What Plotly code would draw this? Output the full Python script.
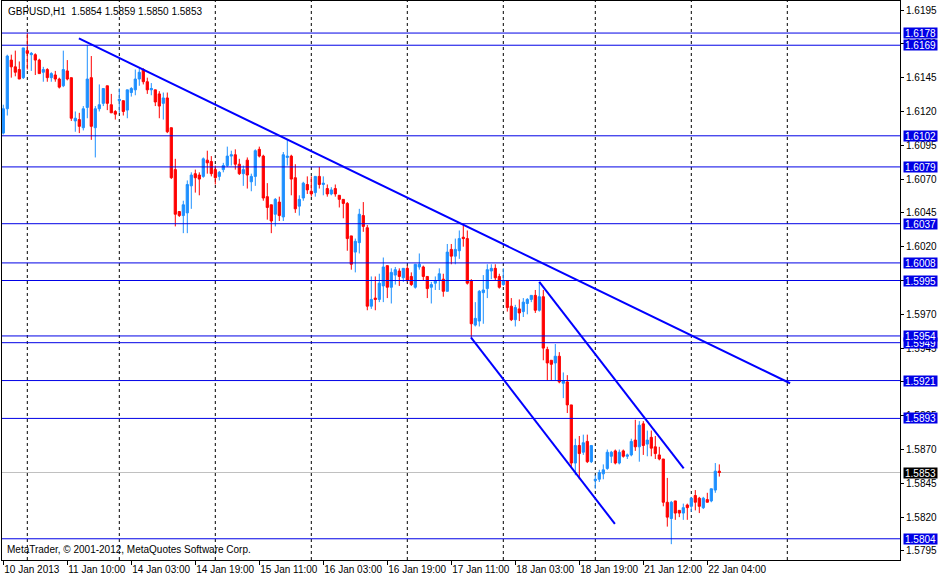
import plotly.graph_objects as go

# GBPUSD H1 bars, one per hour, first bar 10 Jan 2013 18:00
OPEN = [
    1.6104, 1.6122, 1.6158, 1.6153, 1.6151, 1.6145, 1.6165, 1.6162, 1.6162, 1.6158,
    1.6149, 1.6151, 1.6145, 1.6147, 1.6144, 1.6139, 1.6150, 1.6145, 1.6113, 1.6114,
    1.6108, 1.6123, 1.6145, 1.6108, 1.6122, 1.6126, 1.6139, 1.6125, 1.6120, 1.6128,
    1.6128, 1.6121, 1.6134, 1.6136, 1.6144, 1.6151, 1.6142, 1.6136, 1.6136, 1.6133,
    1.6126, 1.6130, 1.6108, 1.6077, 1.6046, 1.6043, 1.6045, 1.6065, 1.6074, 1.6073,
    1.6072, 1.6084, 1.6083, 1.6077, 1.6072, 1.6077, 1.6080, 1.6087, 1.6088, 1.6081,
    1.6074, 1.6084, 1.6068, 1.6072, 1.6092, 1.6087, 1.6057, 1.6051, 1.6044, 1.6053,
    1.6042, 1.6086, 1.6087, 1.6071, 1.6050, 1.6056, 1.6066, 1.6061, 1.6060, 1.6072,
    1.6066, 1.6063, 1.6059, 1.6063, 1.6058, 1.6055, 1.6052, 1.6028, 1.6016, 1.6023,
    1.6043, 1.6034, 1.5976, 1.5982, 1.5981, 1.5991, 1.6006, 1.5990, 1.5999, 1.6002,
    1.5997, 1.6004, 1.5998, 1.5990, 1.6005, 1.6005, 1.5998, 1.5990, 1.5993, 1.5995,
    1.5996, 1.5987, 1.6018, 1.6013, 1.6017, 1.6027, 1.6026, 1.5995, 1.5962, 1.5965,
    1.5986, 1.5989, 1.6002, 1.6004, 1.5998, 1.5992, 1.5995, 1.5976, 1.5966, 1.5974,
    1.5972, 1.5978, 1.5981, 1.5984, 1.5973, 1.5983, 1.5944, 1.5936, 1.5934, 1.5939,
    1.5919, 1.5920, 1.5903, 1.5860, 1.5873, 1.5868, 1.5876, 1.5861, 1.5847, 1.5848,
    1.5852, 1.5856, 1.5865, 1.5869, 1.5860, 1.5869, 1.5865, 1.5866, 1.5877, 1.5872,
    1.5889, 1.5874, 1.5879, 1.5872, 1.5866, 1.5863, 1.5831, 1.5819, 1.5832, 1.5825,
    1.5823, 1.5829, 1.5828, 1.5836, 1.5834, 1.5827, 1.5833, 1.5832, 1.5840, 1.5854,
]
HIGH = [
    1.6125, 1.6162, 1.6162, 1.6165, 1.6157, 1.6167, 1.6178, 1.6164, 1.6163, 1.6159,
    1.6153, 1.6152, 1.6149, 1.6150, 1.6145, 1.6165, 1.6158, 1.6145, 1.6120, 1.6119,
    1.6124, 1.6169, 1.6161, 1.6124, 1.6140, 1.6137, 1.6139, 1.6133, 1.6121, 1.6137,
    1.6128, 1.6136, 1.6138, 1.6151, 1.6152, 1.6152, 1.6145, 1.6141, 1.6136, 1.6135,
    1.6134, 1.6134, 1.6108, 1.6085, 1.6046, 1.6054, 1.6069, 1.6075, 1.6077, 1.6075,
    1.6086, 1.6091, 1.6087, 1.6080, 1.6076, 1.6082, 1.6094, 1.6091, 1.6092, 1.6085,
    1.6080, 1.6086, 1.6074, 1.6092, 1.6094, 1.6088, 1.6067, 1.6051, 1.6056, 1.6057,
    1.6090, 1.6099, 1.6088, 1.6081, 1.6058, 1.6068, 1.6072, 1.6072, 1.6072, 1.6079,
    1.6072, 1.6066, 1.6064, 1.6066, 1.6058, 1.6055, 1.6053, 1.6028, 1.6026, 1.6048,
    1.6053, 1.6036, 1.5998, 1.5998, 1.6000, 1.6012, 1.6006, 1.6004, 1.6005, 1.6004,
    1.6004, 1.6006, 1.6001, 1.6007, 1.6015, 1.6006, 1.5998, 1.5994, 1.5998, 1.6004,
    1.6000, 1.6022, 1.6022, 1.6026, 1.6032, 1.6036, 1.6032, 1.5996, 1.5979, 1.5988,
    1.5999, 1.6007, 1.6007, 1.6007, 1.6000, 1.6004, 1.5995, 1.5982, 1.5977, 1.5981,
    1.5982, 1.5982, 1.5984, 1.5988, 1.5994, 1.5988, 1.5946, 1.5936, 1.5948, 1.5942,
    1.5927, 1.5925, 1.5903, 1.5878, 1.5880, 1.5881, 1.5881, 1.5873, 1.5851, 1.5855,
    1.5859, 1.5870, 1.5869, 1.5870, 1.5870, 1.5870, 1.5867, 1.5878, 1.5892, 1.5891,
    1.5891, 1.5884, 1.5884, 1.5880, 1.5872, 1.5863, 1.5849, 1.5832, 1.5832, 1.5825,
    1.5830, 1.5830, 1.5835, 1.5840, 1.5835, 1.5835, 1.5838, 1.5841, 1.5860, 1.5859,
]
LOW = [
    1.6103, 1.6117, 1.6145, 1.6146, 1.6144, 1.6144, 1.6151, 1.6150, 1.6147, 1.6148,
    1.6142, 1.6142, 1.6142, 1.6142, 1.6137, 1.6138, 1.6143, 1.6113, 1.6105, 1.6104,
    1.6106, 1.6115, 1.6099, 1.6086, 1.6120, 1.6124, 1.6121, 1.6119, 1.6114, 1.6119,
    1.6117, 1.6115, 1.6131, 1.6132, 1.6139, 1.6140, 1.6133, 1.6132, 1.6124, 1.6115,
    1.6114, 1.6104, 1.6070, 1.6035, 1.6042, 1.6030, 1.6030, 1.6048, 1.6060, 1.6058,
    1.6071, 1.6074, 1.6072, 1.6066, 1.6069, 1.6075, 1.6079, 1.6080, 1.6077, 1.6073,
    1.6065, 1.6063, 1.6061, 1.6065, 1.6086, 1.6054, 1.6040, 1.6030, 1.6035, 1.6039,
    1.6039, 1.6080, 1.6058, 1.6045, 1.6043, 1.6054, 1.6059, 1.6057, 1.6057, 1.6063,
    1.6058, 1.6057, 1.6058, 1.6057, 1.6049, 1.6041, 1.6017, 1.6003, 1.6001, 1.6015,
    1.6031, 1.5973, 1.5974, 1.5973, 1.5979, 1.5979, 1.5982, 1.5978, 1.5992, 1.5991,
    1.5994, 1.5994, 1.5991, 1.5989, 1.6003, 1.5995, 1.5982, 1.5978, 1.5988, 1.5988,
    1.5983, 1.5987, 1.6007, 1.6007, 1.6011, 1.6020, 1.5992, 1.5953, 1.5961, 1.5961,
    1.5963, 1.5982, 1.5996, 1.5995, 1.5989, 1.5991, 1.5972, 1.5965, 1.5961, 1.5965,
    1.5968, 1.5970, 1.5979, 1.5971, 1.5972, 1.5936, 1.5921, 1.5921, 1.5921, 1.5919,
    1.5908, 1.5897, 1.5857, 1.5851, 1.5848, 1.5866, 1.5860, 1.5860, 1.5841, 1.5846,
    1.5848, 1.5855, 1.5860, 1.5859, 1.5859, 1.5864, 1.5863, 1.5865, 1.5869, 1.5861,
    1.5866, 1.5865, 1.5865, 1.5863, 1.5862, 1.5828, 1.5813, 1.5800, 1.5818, 1.5820,
    1.5818, 1.5818, 1.5824, 1.5825, 1.5823, 1.5826, 1.5831, 1.5831, 1.5838, 1.5850,
]
CLOSE = [
    1.6122, 1.6161, 1.6153, 1.6149, 1.6144, 1.6167, 1.6163, 1.6163, 1.6158, 1.6148,
    1.6151, 1.6145, 1.6148, 1.6144, 1.6138, 1.6151, 1.6144, 1.6115, 1.6115, 1.6109,
    1.6122, 1.6144, 1.6109, 1.6122, 1.6125, 1.6137, 1.6126, 1.6119, 1.6118, 1.6129,
    1.6120, 1.6136, 1.6137, 1.6144, 1.6149, 1.6142, 1.6136, 1.6137, 1.6127, 1.6124,
    1.6130, 1.6105, 1.6071, 1.6044, 1.6043, 1.6051, 1.6066, 1.6073, 1.6071, 1.6070,
    1.6085, 1.6082, 1.6074, 1.6071, 1.6075, 1.6080, 1.6087, 1.6088, 1.6081, 1.6074,
    1.6077, 1.6073, 1.6072, 1.6091, 1.6087, 1.6056, 1.6049, 1.6039, 1.6055, 1.6043,
    1.6088, 1.6087, 1.6070, 1.6048, 1.6055, 1.6067, 1.6062, 1.6059, 1.6072, 1.6066,
    1.6067, 1.6059, 1.6062, 1.6059, 1.6055, 1.6052, 1.6026, 1.6007, 1.6024, 1.6044,
    1.6035, 1.5976, 1.5981, 1.5981, 1.5993, 1.6005, 1.5990, 1.6001, 1.6003, 1.5998,
    1.6004, 1.5995, 1.5992, 1.6007, 1.6007, 1.5998, 1.5989, 1.5992, 1.5995, 1.6000,
    1.5987, 1.6016, 1.6013, 1.6018, 1.6026, 1.6026, 1.5993, 1.5963, 1.5967, 1.5987,
    1.5988, 1.6003, 1.6004, 1.5997, 1.5990, 1.5995, 1.5975, 1.5966, 1.5975, 1.5971,
    1.5979, 1.5981, 1.5984, 1.5973, 1.5983, 1.5945, 1.5934, 1.5933, 1.5939, 1.5920,
    1.5921, 1.5903, 1.5860, 1.5873, 1.5867, 1.5875, 1.5861, 1.5873, 1.5848, 1.5853,
    1.5855, 1.5868, 1.5868, 1.5860, 1.5868, 1.5865, 1.5866, 1.5876, 1.5872, 1.5888,
    1.5873, 1.5877, 1.5871, 1.5867, 1.5863, 1.5831, 1.5820, 1.5831, 1.5823, 1.5823,
    1.5827, 1.5827, 1.5834, 1.5831, 1.5828, 1.5834, 1.5831, 1.5841, 1.5854, 1.5853,
]

TICK_BARS = [0, 16, 32, 48, 64, 80, 96, 112, 128, 144, 160, 176]
TICK_LABELS = [
    "10 Jan 2013", "11 Jan 10:00", "14 Jan 03:00", "14 Jan 19:00",
    "15 Jan 11:00", "16 Jan 03:00", "16 Jan 19:00", "17 Jan 11:00",
    "18 Jan 03:00", "18 Jan 19:00", "21 Jan 12:00", "22 Jan 04:00",
]
DAY_BREAKS = [6, 29, 53, 77, 101, 125, 148, 172, 196]
PRICE_TICKS = [
    1.5795, 1.5820, 1.5845, 1.5870, 1.5895, 1.5920, 1.5945, 1.5970, 1.5995,
    1.6020, 1.6045, 1.6070, 1.6095, 1.6120, 1.6145, 1.6170, 1.6195,
]

# horizontal levels drawn on the chart (1.5954 last so it sits on top)
LEVELS = [1.6178, 1.6169, 1.6102, 1.6079, 1.6037, 1.6008, 1.5995,
          1.5949, 1.5954, 1.5921, 1.5893, 1.5804]
BID = 1.5853

# trend lines: start bar, start price, end bar, end price
TREND_X0 = [18.9, 116.9, 134.0]
TREND_Y0 = [1.6174, 1.5953, 1.5994]
TREND_X1 = [196.7, 152.9, 170.1]
TREND_Y1 = [1.5919, 1.5815, 1.5856]

TITLE = "GBPUSD,H1  1.5854 1.5859 1.5850 1.5853"
FOOTER = "MetaTrader, \u00a9 2001-2012, MetaQuotes Software Corp."

UP = "#1E90FF"
DOWN = "#FF0000"
LEVEL_BLUE = "#0000E6"
FONT = "Liberation Sans"
FSIZE = 10

bars = list(range(len(OPEN)))

fig = go.Figure()
fig.add_trace(go.Candlestick(
    x=bars, open=OPEN, high=HIGH, low=LOW, close=CLOSE,
    increasing=dict(line=dict(color=UP, width=1), fillcolor=UP),
    decreasing=dict(line=dict(color=DOWN, width=1), fillcolor=DOWN),
    whiskerwidth=0,
    hoverinfo="skip",
))

shapes = []
for b in DAY_BREAKS:
    shapes.append(dict(type="line", xref="x", yref="paper", x0=b, x1=b, y0=0, y1=1,
                       line=dict(color="black", width=1, dash="3px,3px"), layer="below"))
shapes.append(dict(type="line", xref="paper", yref="y", x0=0, x1=1, y0=BID, y1=BID,
                   line=dict(color="#C0C0C0", width=1), layer="below"))
for lv in LEVELS:
    shapes.append(dict(type="line", xref="paper", yref="y", x0=0, x1=1, y0=lv, y1=lv,
                       line=dict(color=LEVEL_BLUE, width=1)))
for x0, y0, x1, y1 in zip(TREND_X0, TREND_Y0, TREND_X1, TREND_Y1):
    shapes.append(dict(type="line", xref="x", yref="y", x0=x0, y0=y0, x1=x1, y1=y1,
                       line=dict(color="#0000FF", width=2)))

annotations = []
for lv in LEVELS:
    annotations.append(dict(xref="paper", yref="y", x=1, y=lv, xanchor="left", yanchor="middle",
                            xshift=3, text=f"{lv:.4f}", showarrow=False, bgcolor=LEVEL_BLUE,
                            borderpad=0, width=33, height=10,
                            font=dict(family=FONT, size=FSIZE, color="white")))
annotations.append(dict(xref="paper", yref="y", x=1, y=BID, xanchor="left", yanchor="middle",
                        xshift=3, text=f"{BID:.4f}", showarrow=False, bgcolor="black",
                        borderpad=0, width=33, height=10,
                        font=dict(family=FONT, size=FSIZE, color="white")))
annotations.append(dict(xref="paper", yref="paper", x=0, y=1, xanchor="left", yanchor="top",
                        xshift=4, yshift=-3, text=TITLE, showarrow=False,
                        font=dict(family=FONT, size=FSIZE, color="black")))
annotations.append(dict(xref="paper", yref="paper", x=0, y=0, xanchor="left", yanchor="bottom",
                        xshift=3, yshift=3, text=FOOTER, showarrow=False,
                        font=dict(family=FONT, size=FSIZE, color="black")))

fig.update_layout(
    width=938,
    height=577,
    margin=dict(l=2, r=38, t=1, b=17),
    paper_bgcolor="white",
    plot_bgcolor="white",
    showlegend=False,
    boxgap=0.45,
    boxgroupgap=0,
    font=dict(family=FONT, size=FSIZE, color="black"),
    shapes=shapes,
    annotations=annotations,
    xaxis=dict(
        range=[-0.325, 224.175],
        rangeslider=dict(visible=False),
        tickmode="array",
        tickvals=TICK_BARS,
        ticktext=TICK_LABELS,
        tickangle=0,
        automargin=False,
        ticks="outside",
        ticklen=4,
        tickcolor="black",
        ticklabelposition="outside right",
        showgrid=False,
        zeroline=False,
        showline=True,
        linecolor="black",
        linewidth=1,
        mirror=True,
    ),
    yaxis=dict(
        side="right",
        range=[1.57883, 1.62017],
        tickmode="array",
        tickvals=PRICE_TICKS,
        tickformat=".4f",
        automargin=False,
        ticks="outside",
        ticklen=3,
        tickcolor="black",
        showgrid=False,
        zeroline=False,
        showline=True,
        linecolor="black",
        linewidth=1,
        mirror=True,
    ),
)

# drop the browser's default page margin so the figure fills the window
fig.write_html("out.html", config={"displayModeBar": False},
               post_script="document.body.style.margin='0';")
